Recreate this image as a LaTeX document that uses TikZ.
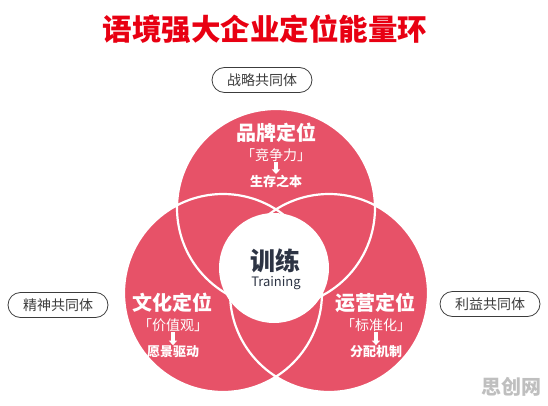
\documentclass[tikz,border=0pt]{standalone}
\usepackage{fontspec}
\setmainfont{Noto Sans CJK SC}
\usetikzlibrary{arrows.meta}
\definecolor{ringred}{RGB}{231,82,104}
\definecolor{titlered}{RGB}{232,0,18}
\definecolor{inkgray}{RGB}{60,60,60}
\definecolor{centerink}{RGB}{45,52,68}
\begin{document}
\begin{tikzpicture}[x=1pt,y=-1pt,
    pill/.style={draw=inkgray, line width=0.8pt, rounded corners=12.5pt, minimum width=100pt,
      minimum height=25pt, text=inkgray, font=\fontsize{14}{14}\selectfont},
    head/.style={text=white, font=\bfseries\fontsize{20}{20}\selectfont},
    sub/.style={text=white, inner sep=0.5pt, font=\fontsize{14}{14}\selectfont},
    goal/.style={text=white, inner sep=0.5pt, font=\bfseries\fontsize{13}{13}\selectfont},
    down/.style={white, line width=3.2pt, -{Triangle[width=8pt,length=4.5pt]}}]
      \useasboundingbox (0,0) rectangle (548,406);
      \coordinate (brandc) at (276,208);
      \coordinate (culturec) at (223,293);
      \coordinate (opsc) at (329,293);
      \fill[ringred] (brandc) circle[radius=99] (culturec) circle[radius=99] (opsc) circle[radius=99];
      \draw[white, line width=2.2] (brandc) circle[radius=99] (culturec) circle[radius=99] (opsc) circle[radius=99];
      \fill[white] (274,268) circle[radius=55];
      \node[font=\bfseries\fontsize{29.5}{30}\selectfont, text=titlered] (title) at (265,29) {语境强大企业定位能量环};
      \node[pill] (strategy) at (262,80) {战略共同体};
      \node[pill] (spirit) at (58,305) {精神共同体};
      \node[pill] (profit) at (490,304) {利益共同体};
      \node[head] (brand) at (276,133) {品牌定位};
      \node[sub] (brandsub) at (276,155) {「竞争力」};
      \node[goal] (brandgoal) at (276,181) {生存之本};
      \draw[down] (brandsub) -- (brandgoal);
      \node[head] (culture) at (172,303) {文化定位};
      \node[sub] (culturesub) at (173,325) {「价值观」};
      \node[goal] (culturegoal) at (173,352) {愿景驱动};
      \draw[down] (culturesub) -- (culturegoal);
      \node[head] (ops) at (375,303) {运营定位};
      \node[sub] (opssub) at (376,325) {「标准化」};
      \node[goal] (opsgoal) at (376,352) {分配机制};
      \draw[down] (opssub) -- (opsgoal);
      \node[font=\bfseries\fontsize{25}{25}\selectfont, text=centerink] (train) at (275,261) {训练};
      \node[font=\fontsize{13}{13}\selectfont, text=centerink] (trainen) at (276,283) {Training};
      \node[font=\bfseries\fontsize{20}{20}\selectfont, text=black!25] (mark) at (511,387) {思创网};
\end{tikzpicture}
\end{document}
